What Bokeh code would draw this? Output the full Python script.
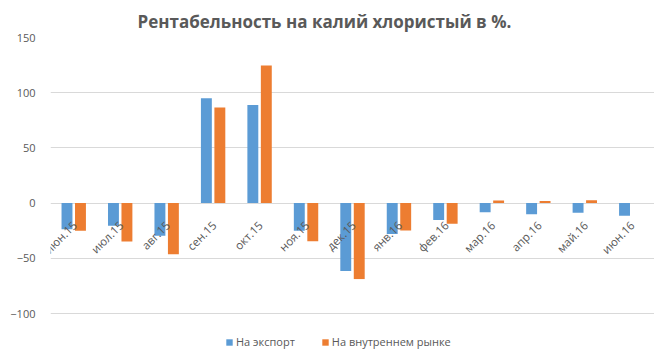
import numpy as np
from bokeh.plotting import figure
from bokeh.models import (ColumnDataSource, FactorRange, Range1d, FixedTicker, Legend,
                          LegendItem, Title)
from bokeh.transform import dodge
from bokeh.core.properties import value
from bokeh.embed import file_html
from bokeh.resources import INLINE

# ---- data ----
categories = ["июн.15", "июл.15", "авг.15", "сен.15", "окт.15", "ноя.15", "дек.15",
              "янв.16", "фев.16", "мар.16", "апр.16", "май.16", "июн.16"]
export_vals = [-23.7, -20.6, -29.5, 94.9, 88.9, -25.0, -61.5, -27.9, -15.2, -8.2, -10.0, -8.8, -11.5]
domestic_vals = [-25.0, -34.8, -46.4, 86.7, 124.6, -34.5, -68.8, -24.8, -18.8, 2.4, 1.8, 2.7, 0.0]
y_ticks = [-100, -50, 0, 50, 100, 150]
title_text = "Рентабельность на калий хлористый в %."
series_names = ["На экспорт", "На внутреннем рынке"]

BLUE = "#5B9BD5"
ORANGE = "#ED7D31"
GREY_TXT = "#595959"
GRID = "#D9D9D9"
FONT = "Open Sans"

src = ColumnDataSource(dict(cat=categories, exp=export_vals, dom=domestic_vals,
                            zero=[0] * len(categories)))

# the frame extends below the -100 gridline to host the legend (1.104 px per unit)
p = figure(width=654, height=350, output_backend="svg", toolbar_location=None,
           x_range=FactorRange(*categories, range_padding=0),
           y_range=Range1d(-133.5, 150), x_axis_location=None,
           min_border_left=50, min_border_right=0, min_border_top=37, min_border_bottom=0)
p.outline_line_color = None

t = Title(text=title_text, align="left", offset=87, text_font=FONT, text_font_size="17px",
          text_font_style="bold", text_color=GREY_TXT)
p.add_layout(t, "above")

# grid
p.xgrid.grid_line_color = None
p.ygrid.grid_line_color = GRID
p.ygrid.grid_line_width = 1
p.ygrid.ticker = FixedTicker(ticks=y_ticks)

# y axis
p.yaxis.ticker = FixedTicker(ticks=y_ticks)
p.yaxis.axis_line_color = None
p.yaxis.major_tick_line_color = None
p.yaxis.minor_tick_line_color = None
p.yaxis.major_label_text_font = FONT
p.yaxis.major_label_text_font_size = "11px"
p.yaxis.major_label_text_color = GREY_TXT
p.yaxis.major_label_standoff = 9

r1 = p.vbar(x=dodge("cat", -0.145, range=p.x_range), top="exp", width=0.235,
            source=src, fill_color=BLUE, line_color=None)
r2 = p.vbar(x=dodge("cat", 0.145, range=p.x_range), top="dom", width=0.235,
            source=src, fill_color=ORANGE, line_color=None)

# category labels at the zero line, rotated
p.text(x="cat", y="zero", text="cat", source=src,
       angle=np.pi / 4, text_align="right", text_baseline="middle",
       x_offset=1, y_offset=20, text_font=value(FONT), text_font_size="11.5px",
       text_color=GREY_TXT)

legend = Legend(items=[LegendItem(label=series_names[0], renderers=[r1]),
                       LegendItem(label=series_names[1], renderers=[r2])],
                orientation="horizontal", location=(175, 1),
                label_text_font=FONT, label_text_font_size="11px",
                label_text_color=GREY_TXT, glyph_width=8, glyph_height=8,
                label_standoff=3, spacing=26, padding=2, margin=0,
                border_line_color=None, background_fill_alpha=0,
                label_height=12)
p.add_layout(legend, "center")

open("out.html", "w").write(file_html(p, INLINE))
